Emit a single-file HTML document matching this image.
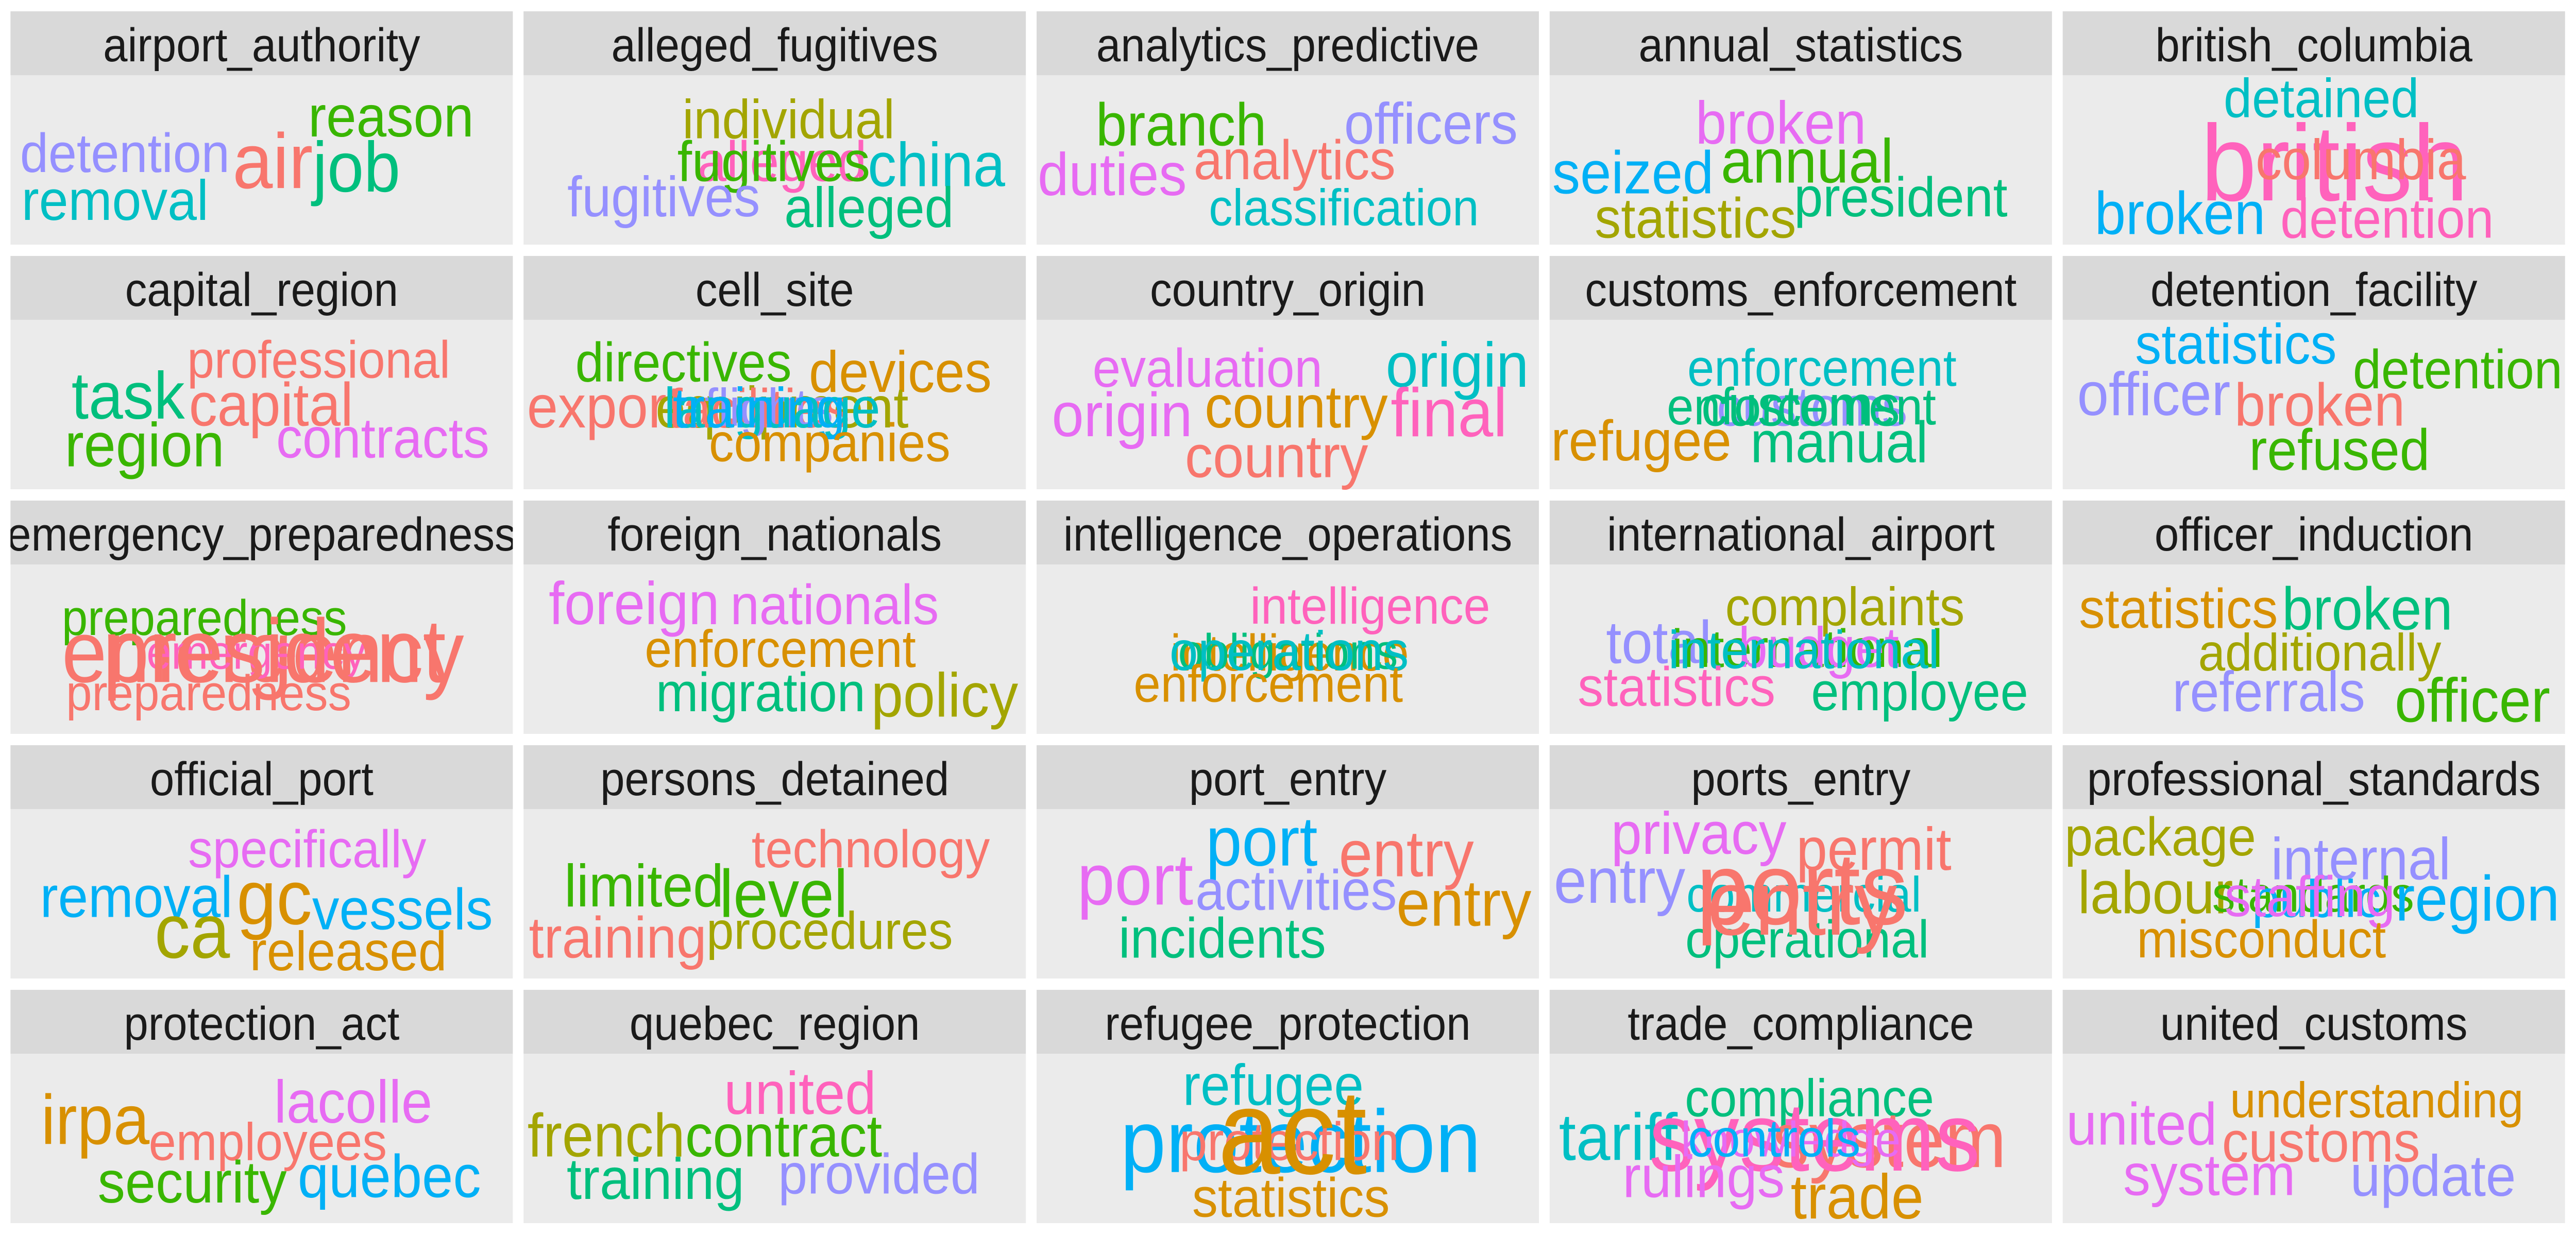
<!DOCTYPE html>
<html><head><meta charset="utf-8">
<style>
html,body{margin:0;padding:0;background:#fff;overflow:hidden;width:100%;height:100%;}
svg{display:block;width:100vw;height:100vh;}
text{font-family:"Liberation Sans",Arial,sans-serif;}
</style></head>
<body>
<svg id="chart" xmlns="http://www.w3.org/2000/svg" viewBox="0 0 5400 2400" preserveAspectRatio="none" overflow="hidden">
<rect x="0" y="0" width="5400" height="2400" fill="#ffffff"/>
<defs id="defs"></defs>
</svg>
<script>
// facet titles
const facets = ["airport_authority","alleged_fugitives","analytics_predictive","annual_statistics","british_columbia",
"capital_region","cell_site","country_origin","customs_enforcement","detention_facility",
"emergency_preparedness","foreign_nationals","intelligence_operations","international_airport","officer_induction",
"official_port","persons_detained","port_entry","ports_entry","professional_standards",
"protection_act","quebec_region","refugee_protection","trade_compliance","united_customs"];
// palette keys
const palette = {S:"#F8766D",O:"#D89000",L:"#A3A500",G:"#39B600",T:"#00BF7D",C:"#00BFC4",B:"#00B0F6",P:"#9590FF",M:"#E76BF3",K:"#FF62BC"};
// words: [facet index, word, size, colour key, x, baseline y]  (layout units of the reference preview)
const words = [
[0,"detention",31,"P",76,97],[0,"removal",32,"C",70,124],[0,"air",44,"S",166,106],[0,"reason",33,"G",238,77],[0,"job",40,"T",217,108],
[1,"individual",31,"L",480,78],[1,"alleged",32,"K",476,102],[1,"fugitives",32,"G",471,102],[1,"china",35,"C",570,105],[1,"fugitives",32,"P",404,122],[1,"alleged",32,"T",529,128],
[2,"branch",34,"G",719,82],[2,"officers",33,"P",871,81],[2,"duties",34,"M",677,110],[2,"analytics",31.6,"S",788,101],[2,"classification",29,"C",818,127],
[3,"broken",34,"M",1084,81],[3,"annual",35,"G",1100,103],[3,"seized",34,"B",994,109],[3,"president",31.6,"T",1157,122],[3,"statistics",32,"L",1032,134],
[4,"detained",31,"C",1413,66],[4,"british",61,"K",1421,113],[4,"columbia",32,"S",1437,101],[4,"broken",34,"B",1327,132],[4,"detention",31.6,"K",1453,134],
[5,"professional",29.7,"S",194,213],[5,"task",37.6,"T",78,236],[5,"capital",34.6,"S",165,240],[5,"region",35,"G",88,263],[5,"contracts",32,"M",233,258],
[6,"directives",31.2,"G",416,215],[6,"devices",32.8,"O",548,221],[6,"export",34,"S",368,241],[6,"equipment",33,"L",476,241],[6,"facilities",31,"S",462,241],[6,"flights",30,"P",468,240],[6,"language",32,"C",470,241],[6,"training",32,"B",462,241],[6,"companies",30.4,"O",505,260],
[7,"evaluation",30.7,"M",735,218],[7,"origin",35.6,"C",887,218],[7,"origin",35,"M",683,246],[7,"country",34,"O",789,241],[7,"final",38.7,"K",882,246],[7,"country",34,"S",777,269],
[8,"enforcement",29.5,"C",1109,217.5],[8,"customs",31.2,"P",1103,240],[8,"enforcement",29.5,"T",1096.5,239.3],[8,"customs",32.5,"T",1096,240],[8,"refugee",32.4,"O",999,259.6],[8,"manual",33,"T",1119.5,260.6],
[9,"statistics",32,"B",1361,205],[9,"officer",34.5,"P",1311,234],[9,"broken",34,"S",1412,240],[9,"detention",31,"G",1496,219],[9,"refused",33,"G",1424,265],
[10,"preparedness",28.4,"G",124.4,358],[10,"emergency",49.5,"S",160,384.5],[10,"emergency",27,"K",156,377],[10,"president",50.8,"S",167,384.5],[10,"preparedness",28.4,"S",127,400.4],
[11,"foreign",34,"M",386,352],[11,"nationals",31.7,"M",508,352],[11,"enforcement",29.7,"O",475,376],[11,"migration",31,"T",463,401],[11,"policy",35,"L",575,404],
[12,"intelligence",29.2,"K",834,351.6],[12,"intelligence",29,"O",785,378],[12,"obligations",28,"T",784,377],[12,"operations",31.2,"C",784.7,377.7],[12,"enforcement",29.5,"O",772,395.7],
[13,"complaints",30.5,"L",1123,352.5],[13,"total",34,"P",1009.7,373.9],[13,"international",30.3,"G",1100,376],[13,"budget",32,"M",1107,376],[13,"international",30.3,"C",1098,376.8],[13,"statistics",31.4,"K",1020.5,398],[13,"employee",30.5,"T",1168.5,400.4],
[14,"statistics",31.6,"O",1326,354],[14,"broken",34,"T",1441,355],[14,"additionally",29.6,"L",1412,378],[14,"referrals",32,"P",1381,401],[14,"officer",35,"G",1505,407],
[15,"specifically",30,"M",187,489],[15,"removal",33,"B",83,517],[15,"gc",43.5,"O",167,521],[15,"ca",43.5,"L",117,540],[15,"vessels",33,"B",245,524],[15,"released",31.3,"O",212,547],
[16,"technology",30,"S",530,489],[16,"limited",33.6,"G",392,511],[16,"level",38,"G",477,517],[16,"training",33,"S",376,540],[16,"procedures",30,"L",505,535],
[17,"port",39.5,"B",768,488],[17,"entry",37,"S",856,494],[17,"port",41,"M",691,510],[17,"activities",32,"P",789,513],[17,"entry",37,"O",891,522],[17,"incidents",32,"T",744,540],
[18,"privacy",33.7,"M",1034,481.5],[18,"permit",34,"S",1140.6,490.5],[18,"entry",36,"P",985.8,509],[18,"commercial",28,"C",1098,514],[18,"operational",30,"T",1100,539.8],[18,"ports",58,"S",1097,521],[18,"entry",52,"S",1097,527],
[19,"package",30.8,"L",1315,482.3],[19,"internal",33.4,"P",1437,495.8],[19,"labour",34,"L",1312,515],[19,"standards",28,"G",1408,514],[19,"public",30,"B",1410,517],[19,"staffing",32.4,"M",1406,516.5],[19,"region",36,"B",1508,519],[19,"misconduct",30,"O",1376.5,539.8],
[20,"lacolle",34,"M",215,633],[20,"irpa",39.6,"O",58,645],[20,"employees",30,"S",163,654],[20,"security",33.4,"G",117,678],[20,"quebec",34,"B",237,675],
[21,"united",34,"K",487,628],[21,"french",34.5,"L",369,652],[21,"contract",33.7,"G",477,652],[21,"training",33,"T",399,676],[21,"provided",32,"P",535,673],
[22,"refugee",32.5,"C",775,623],[22,"protection",50,"B",791.7,660.8],[22,"protection",30.5,"S",784.8,654],[22,"act",68,"O",786.7,661.7],[22,"statistics",31.4,"O",785.8,686],
[23,"compliance",30,"T",1101.4,629.4],[23,"tariff",37.5,"C",985,654],[23,"system",45,"S",1150,658],[23,"systems",55,"K",1104.5,660],[23,"knowledge",28,"M",1090,652],[23,"controls",30,"B",1080,652],[23,"rulings",33.5,"M",1037,675],[23,"trade",35.5,"O",1130.4,687],
[24,"understanding",28.2,"O",1446.7,630],[24,"united",33.7,"M",1303.6,645.4],[24,"customs",32.4,"S",1412.8,655],[24,"system",33.1,"M",1344.8,673.8],[24,"update",33,"P",1481,674.3]
];
const NS="http://www.w3.org/2000/svg";
const svg=document.getElementById('chart');
const defs=document.getElementById('defs');
const K=5400/1568;
const colX=i=>22+i*1075.5, rowY=j=>22+j*475, PW=1053, SH=124, BH=329;
facets.forEach((f,i)=>{
  const c=i%5, r=Math.floor(i/5);
  const cp=document.createElementNS(NS,'clipPath');
  cp.setAttribute('id','clip'+i);
  const cr=document.createElementNS(NS,'rect');
  cr.setAttribute('x',colX(c));cr.setAttribute('y',rowY(r));cr.setAttribute('width',PW);cr.setAttribute('height',SH);
  cp.appendChild(cr);
  defs.appendChild(cp);
  const g=document.createElementNS(NS,'g');
  
  
  const strip=document.createElementNS(NS,'rect');
  strip.setAttribute('x',colX(c));strip.setAttribute('y',rowY(r));strip.setAttribute('width',PW);strip.setAttribute('height',SH);strip.setAttribute('fill','#D9D9D9');
  
  
  g.appendChild(strip);
  const body=document.createElementNS(NS,'rect');
  body.setAttribute('x',colX(c));body.setAttribute('y',rowY(r)+SH);body.setAttribute('width',PW);body.setAttribute('height',BH);body.setAttribute('fill','#EBEBEB');
  
  
  g.appendChild(body);
  const t=document.createElementNS(NS,'text');
  t.setAttribute('x',colX(c)+PW/2);t.setAttribute('y',rowY(r)+97);t.setAttribute('text-anchor','middle');t.setAttribute('font-size','92');t.setAttribute('fill','#1A1A1A');
  t.setAttribute('clip-path','url(#clip'+i+')');
  t.textContent=f;
  
  
  g.appendChild(t);
  svg.appendChild(g);
});
words.forEach(w=>{
  const t=document.createElementNS(NS,'text');
  t.setAttribute('x',(w[4]*K).toFixed(1));
  t.setAttribute('y',(w[5]*K).toFixed(1));
  t.setAttribute('text-anchor','middle');
  t.setAttribute('font-size',(w[2]*K).toFixed(1));
  t.setAttribute('fill',palette[w[3]]);
  t.textContent=w[1];
  
  
  svg.appendChild(t);
});
</script>
</body></html>
